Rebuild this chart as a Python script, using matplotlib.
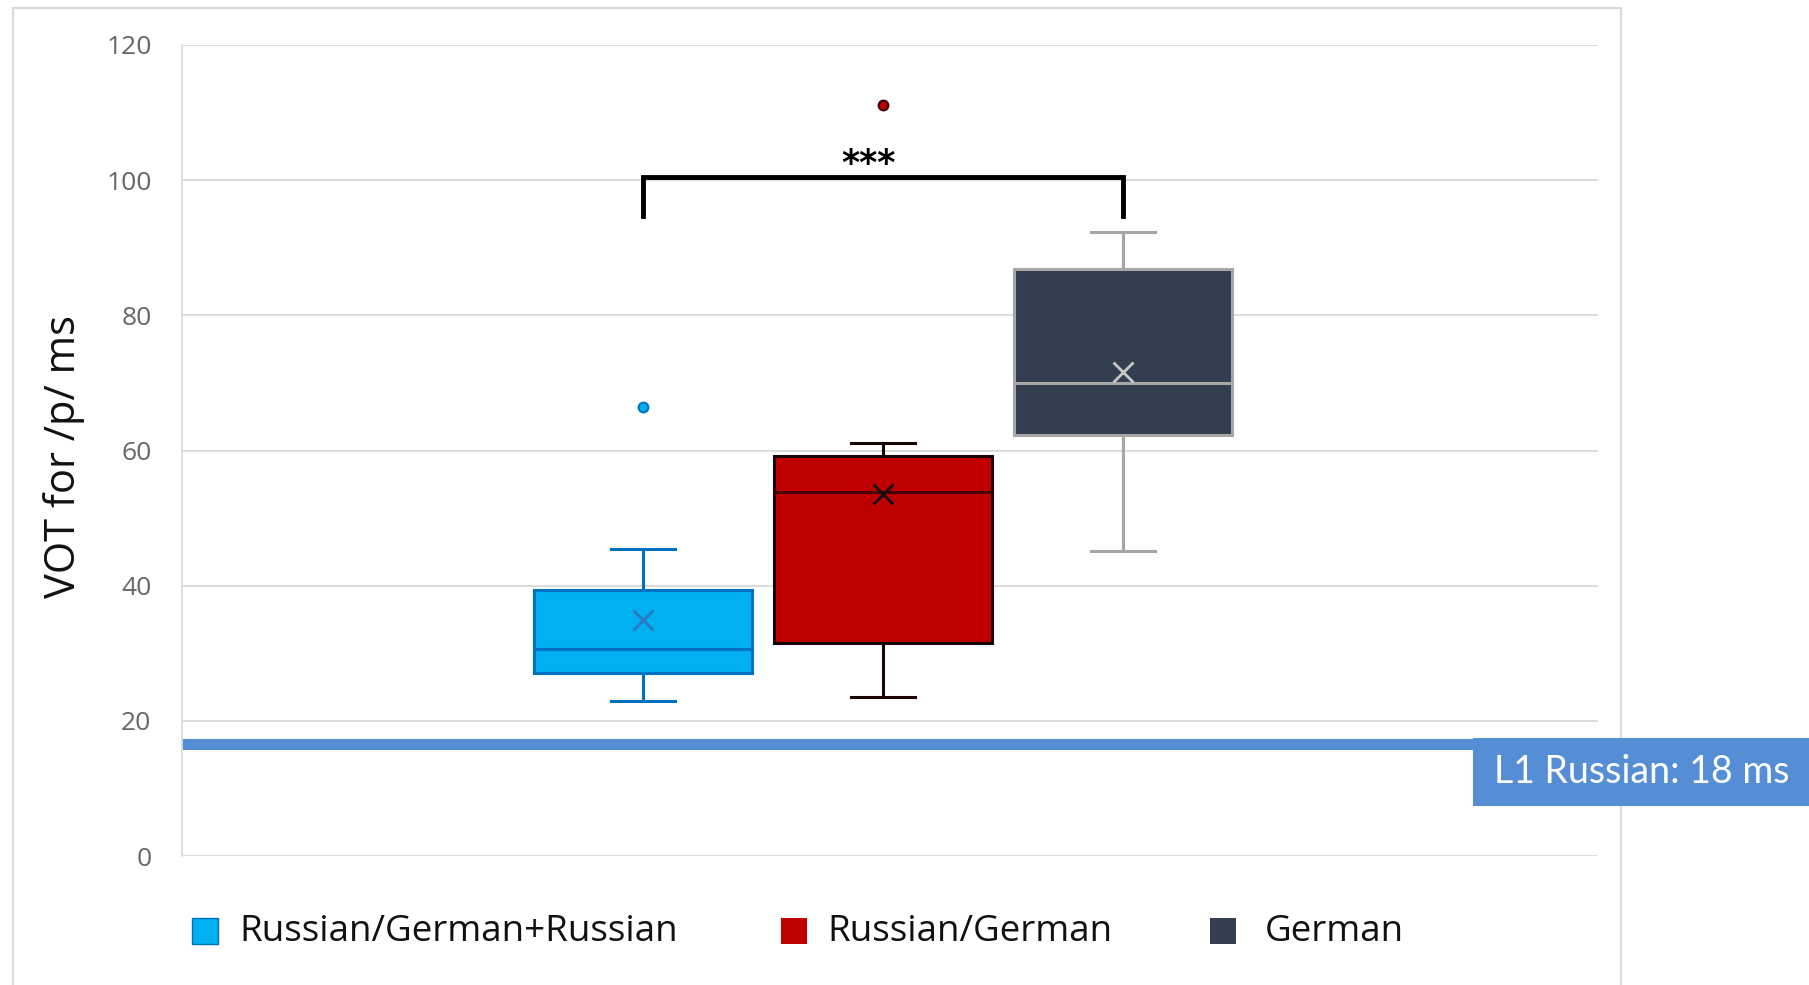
import matplotlib
matplotlib.use("Agg")
import matplotlib.pyplot as plt
from matplotlib.patches import Rectangle

plt.close("all")

# groups and box statistics (VOT for /p/, ms)
groups = ["Russian/German+Russian", "Russian/German", "German"]
whis_lo = [23.0, 23.5, 45.1]
q1 = [27.1, 31.5, 62.3]
med = [30.6, 53.8, 70.0]
q3 = [39.3, 59.2, 86.8]
whis_hi = [45.4, 61.1, 92.3]
means = [34.9, 53.6, 71.6]
outliers = [[66.4], [111.1], []]

l1_russian = 16.6
l1_label = "L1 Russian: 18 ms"
sig_pair = (0, 2)
sig_text = "***"
yticks = [0, 20, 40, 60, 80, 100, 120]

fills = ["#00B0F0", "#C00000", "#333F50"]
edges = ["#0070C0", "#1a0505", "#A6A6A6"]
medc = ["#0070C0", "#4a0000", "#A6A6A6"]
meanc = ["#2f78c0", "#111111", "#C8C8C8"]
flierc = ["#0070C0", "#3a0000", "#A6A6A6"]

W, H = 1809, 985
fig = plt.figure(figsize=(W / 100, H / 100), dpi=100)
fig.patch.set_facecolor("white")


def fx(px):
    return px / W


def fy(py):
    return 1 - py / H


# outer chart frame
fig.patches.append(Rectangle((fx(13), fy(990)), fx(1621) - fx(13), fy(8) - fy(990),
                             transform=fig.transFigure, fill=False,
                             edgecolor="#d9d9d9", lw=1.5, zorder=0))

ax = fig.add_axes([fx(182), fy(856), fx(1598) - fx(182), fy(45) - fy(856)])

for i, g in enumerate(groups):
    st = [dict(med=med[i], q1=q1[i], q3=q3[i], whislo=whis_lo[i], whishi=whis_hi[i],
               mean=means[i], fliers=outliers[i], label=g)]
    ax.bxp(st, positions=[i], widths=0.91, patch_artist=True, showmeans=True,
           manage_ticks=False,
           boxprops=dict(facecolor=fills[i], edgecolor=edges[i], lw=2.2),
           medianprops=dict(color=medc[i], lw=2.2),
           whiskerprops=dict(color=edges[i], lw=2.2),
           capprops=dict(color=edges[i], lw=2.2),
           capwidths=0.27,
           meanprops=dict(marker="x", markersize=14, markeredgewidth=2,
                          markeredgecolor=meanc[i]),
           flierprops=dict(marker="o", markersize=7, markerfacecolor=fills[i],
                           markeredgecolor=flierc[i], markeredgewidth=1.5),
           zorder=3)

ax.set_xlim(-1.921, 3.979)
ax.set_ylim(0, 120)
ax.set_yticks(yticks)
ax.set_xticks([])
for s in ["top", "right", "bottom"]:
    ax.spines[s].set_visible(False)
ax.spines["left"].set_color("#d9d9d9")
ax.spines["left"].set_linewidth(1.2)
ax.grid(axis="y", color="#d9d9d9", lw=1.3)
ax.set_axisbelow(True)
ax.tick_params(axis="y", length=0, pad=22, labelsize=19, labelcolor="#666666")
for lab in ax.get_yticklabels():
    lab.set_family(["Open Sans", "DejaVu Sans"])

fig.text(fx(64), fy(456), "VOT for /p/ ms", rotation=90, ha="center", va="center",
         fontsize=30, family=["Open Sans", "DejaVu Sans"], color="#111111")

# significance bracket
a, b = sig_pair
ax.plot([a, a, b, b], [94.7, 100.4, 100.4, 94.7], color="black", lw=3.5,
        solid_joinstyle="miter", zorder=4)
ax.text((a + b) / 2 - 0.06, 102.4, sig_text, ha="center", va="center", fontsize=25,
        fontweight="bold", color="black")

# L1 Russian reference line, running out to the label box
ax.plot([0, 1.2], [l1_russian, l1_russian], transform=ax.get_yaxis_transform(),
        color="#558ED5", lw=8, solid_capstyle="butt", clip_on=False, zorder=2)
fig.patches.append(Rectangle((fx(1473), fy(806)), fx(1812) - fx(1473), fy(738) - fy(806),
                             transform=fig.transFigure, facecolor="#558ED5",
                             edgecolor="none", zorder=5))
fig.text(fx(1494), fy(772), l1_label, ha="left", va="center", color="white",
         fontsize=27, family=["Lato", "DejaVu Sans"], zorder=6)

# legend drawn by hand to match spacing
leg_patch_x = [192, 781, 1210]
leg_text_x = [239, 827, 1265]
for i, g in enumerate(groups):
    fig.patches.append(Rectangle((fx(leg_patch_x[i]), fy(944)), fx(26), fy(918) - fy(944),
                                 transform=fig.transFigure, facecolor=fills[i],
                                 edgecolor=edges[i] if i == 0 else "none", lw=1))
    fig.text(fx(leg_text_x[i]), fy(932), g, ha="left", va="center", fontsize=26.5,
             family=["Open Sans", "DejaVu Sans"], color="#111111")

fig.savefig("out.png", dpi=100)
